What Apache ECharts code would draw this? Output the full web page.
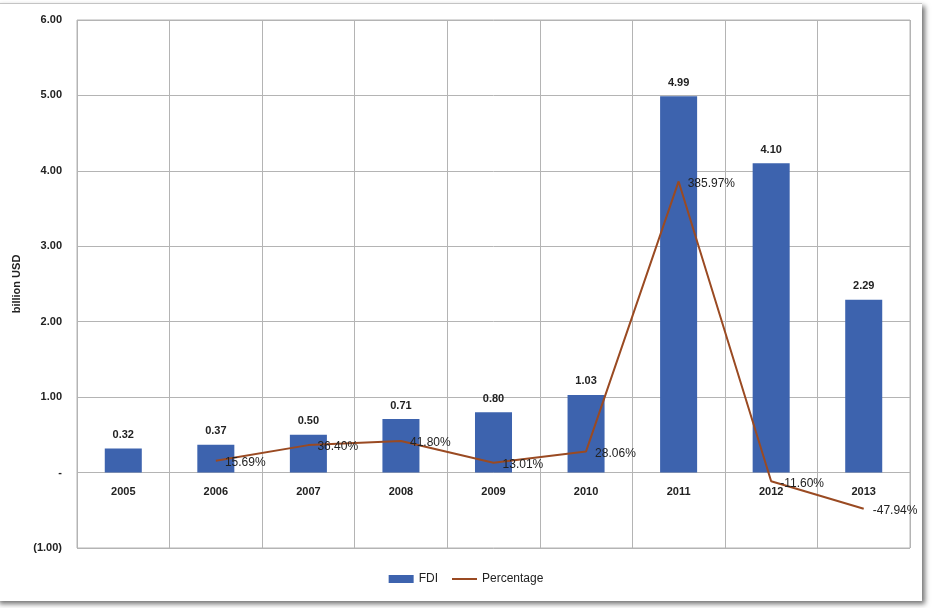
<!DOCTYPE html>
<html>
<head>
<meta charset="utf-8">
<script src="https://cdn.jsdelivr.net/npm/echarts@6/dist/echarts.min.js"></script>
<style>
  html, body { margin: 0; padding: 0; background: #ffffff; }
  #frame { position: absolute; left: -4px; top: 3px; width: 926px; height: 597px;
           background: #ffffff; border-top: 1px solid #c4c4c4;
           box-shadow: 3px 3px 5px rgba(0,0,0,0.55); }
  #chart { position: absolute; left: 0; top: 0; width: 932px; height: 608px; }
</style>
</head>
<body>
<div id="frame"></div>
<div id="chart"></div>
<script>
const categories = ['2005', '2006', '2007', '2008', '2009', '2010', '2011', '2012', '2013'];
const fdi = [0.32, 0.37, 0.50, 0.71, 0.80, 1.03, 4.99, 4.10, 2.29];
const percentage = [null, 15.69, 36.40, 41.80, 13.01, 28.06, 385.97, -11.60, -47.94];

const FONT = '"Liberation Sans", Arial, sans-serif';
const chart = echarts.init(document.getElementById('chart'), null, { renderer: 'canvas' });

chart.setOption({
  backgroundColor: 'transparent',
  animation: false,
  textStyle: { fontFamily: FONT },
  grid: { left: 77, right: 22, top: 20, bottom: 60, show: true, borderColor: '#b4b4b4', borderWidth: 1, backgroundColor: 'transparent' },
  legend: {
    bottom: 18, left: 'center', itemGap: 14, itemWidth: 25, itemHeight: 8,
    textStyle: { fontFamily: FONT, fontSize: 12, color: '#222' },
    data: [
      { name: 'FDI', icon: 'rect' },
      { name: 'Percentage', icon: 'path://M0,0 L25,0 L25,2 L0,2 Z', itemStyle: { color: '#9A4A22' } }
    ]
  },
  xAxis: {
    type: 'category',
    data: categories,
    axisLine: { show: false },
    axisTick: { show: false },
    axisLabel: { fontFamily: FONT, fontSize: 11, fontWeight: 'bold', color: '#222', margin: -62 },
    splitLine: { show: true, lineStyle: { color: '#b4b4b4', width: 1 } }
  },
  yAxis: {
    type: 'value',
    min: -1, max: 6, interval: 1,
    name: 'billion USD',
    nameLocation: 'middle',
    nameGap: 50,
    nameTextStyle: { fontFamily: FONT, fontSize: 11, fontWeight: 'bold', color: '#222' },
    axisLine: { show: false },
    axisTick: { show: false },
    axisLabel: {
      fontFamily: FONT, fontSize: 11, fontWeight: 'bold', color: '#222', margin: 15,
      formatter: function (v) {
        if (Math.abs(v) < 1e-9) return '-';
        if (v < 0) return '(' + Math.abs(v).toFixed(2) + ')';
        return v.toFixed(2);
      }
    },
    splitLine: { show: true, lineStyle: { color: '#b4b4b4', width: 1 } }
  },
  series: [
    {
      name: 'FDI',
      type: 'bar',
      data: fdi,
      barWidth: '40%',
      itemStyle: { color: '#3D63AE' },
      label: {
        show: true, position: 'top', distance: 8,
        fontFamily: FONT, fontSize: 11, fontWeight: 'bold', color: '#222',
        formatter: function (p) { return p.value.toFixed(2); }
      }
    },
    {
      name: 'Percentage',
      type: 'line',
      data: percentage.map(function (v) { return v === null ? null : v / 100; }),
      symbol: 'circle',
      symbolSize: 0.1,
      showSymbol: true,
      lineStyle: { color: '#9A4A22', width: 2 },
      itemStyle: { color: '#9A4A22' },
      label: {
        show: true, position: 'right', distance: 9, offset: [0, 2],
        fontFamily: FONT, fontSize: 12, color: '#222',
        formatter: function (p) { return percentage[p.dataIndex].toFixed(2) + '%'; }
      }
    }
  ]
});
</script>
</body>
</html>
